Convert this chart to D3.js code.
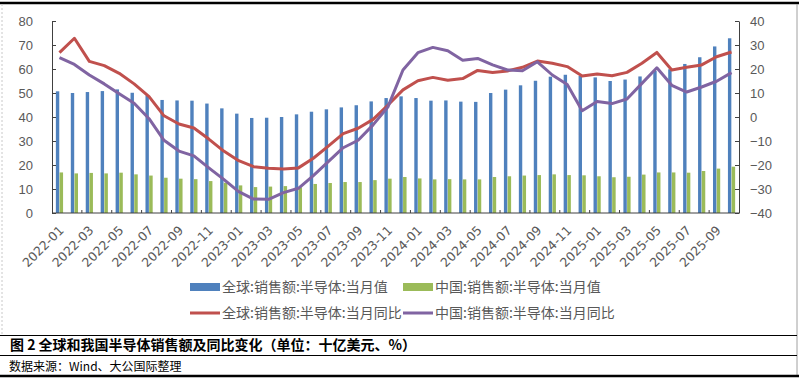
<!DOCTYPE html>
<html>
<head>
<meta charset="utf-8">
<script src="https://cdn.jsdelivr.net/npm/d3@7"></script>
<style>
  body { margin: 0; background: #fff; }
  svg { display: block; }
  .axis path, .axis line { stroke: #404040; }
  .axis text { fill: #595959; font-family: "Liberation Sans", Arial, sans-serif; font-size: 13px; }
  .xLabel { fill: #595959; font-family: "DejaVu Sans", sans-serif; font-size: 12.5px; }
  .legendText { fill: #595959; font-family: "Noto Sans CJK SC", sans-serif; font-size: 14px; }
</style>
</head>
<body>
<div class="plot"></div>
<script>
//DATA
let months = ["2022-01","2022-02","2022-03","2022-04","2022-05","2022-06","2022-07","2022-08","2022-09","2022-10","2022-11","2022-12",
  "2023-01","2023-02","2023-03","2023-04","2023-05","2023-06","2023-07","2023-08","2023-09","2023-10","2023-11","2023-12",
  "2024-01","2024-02","2024-03","2024-04","2024-05","2024-06","2024-07","2024-08","2024-09","2024-10","2024-11","2024-12",
  "2025-01","2025-02","2025-03","2025-04","2025-05","2025-06","2025-07","2025-08","2025-09","2025-10"];

// 全球:销售额:半导体:当月值 (十亿美元)
let globalSales = [50.7,50.0,50.4,50.8,51.5,50.1,49.0,47.1,46.9,46.8,45.6,43.6,
  41.4,39.6,39.7,40.0,41.1,42.2,43.2,44.0,44.9,46.5,47.9,48.6,
  47.9,46.8,46.9,46.4,46.3,50.0,51.4,53.2,55.1,56.8,57.6,57.1,
  56.5,55.0,55.6,56.9,59.2,59.9,62.1,64.9,69.4,72.8];

// 中国:销售额:半导体:当月值 (十亿美元)
let chinaSales = [16.9,16.5,16.7,16.5,16.8,16.1,15.6,14.7,14.3,14.1,13.3,12.6,
  11.5,10.8,11.0,11.2,10.7,12.1,12.5,12.9,12.9,13.7,14.3,15.0,
  14.4,14.0,14.1,14.0,14.0,15.0,15.3,15.6,15.8,16.1,15.8,15.7,
  15.3,14.9,15.1,16.0,16.9,16.9,16.8,17.5,18.5,19.3];

// 全球:销售额:半导体:当月同比 (%)
let globalYoY = [26.8,32.8,23.2,21.4,18.2,13.8,8.5,0.5,-2.9,-4.6,-9.2,-14.2,
  -18.2,-20.7,-21.4,-21.7,-21.2,-17.2,-12.1,-6.9,-4.7,-1.0,5.0,11.3,
  15.1,16.5,15.3,16.0,19.4,18.5,19.2,20.7,23.3,22.4,21.0,17.1,
  17.9,17.2,18.6,22.4,26.9,19.6,20.7,21.7,25.1,27.1];

// 中国:销售额:半导体:当月同比 (%)
let chinaYoY = [24.7,21.9,17.5,13.8,9.7,5.7,-0.7,-9.7,-14.2,-16.2,-21.2,-26.0,
  -31.1,-34.2,-34.3,-31.5,-29.7,-24.4,-18.6,-12.8,-9.7,-3.3,4.3,19.6,
  26.8,29.0,27.6,23.6,24.4,21.7,19.6,19.3,23.0,17.5,13.5,2.6,
  6.5,5.6,7.5,14.0,20.5,13.2,10.4,12.5,14.9,18.5];

let leftTicks = [0,10,20,30,40,50,60,70,80];
let rightTicks = [-40,-30,-20,-10,0,10,20,30,40];

let seriesNames = ["全球:销售额:半导体:当月值","中国:销售额:半导体:当月值",
  "全球:销售额:半导体:当月同比","中国:销售额:半导体:当月同比"];
let seriesColors = ["#4F81BD","#9BBB59","#C0504D","#8064A2"];

//GENERAL VARIABLE INITIALIZATION
let w = 799;
let h = 379;
let plotLeft = 52;
let plotRight = 739;
let plotTop = 21;
let plotBottom = 213;

let svg = d3.select(".plot").append("svg")
    .attr("width", w)
    .attr("height", h);

//SCALES
let xScale = d3.scaleBand()
    .domain(months)
    .range([plotLeft, plotRight])
    .paddingInner(0)
    .paddingOuter(0);

let yLeft = d3.scaleLinear()
    .domain([0, 80])
    .range([plotBottom, plotTop]);

let yRight = d3.scaleLinear()
    .domain([-40, 40])
    .range([plotBottom, plotTop]);

let center = function(d) { return xScale(d) + xScale.bandwidth()/2; };

//BARS
svg.append("g").selectAll("rect.global")
    .data(months)
    .enter()
    .append("rect")
    .attr("class", "global")
    .attr("x", function(d) { return center(d) - 3.6; })
    .attr("width", 3.4)
    .attr("y", function(d, i) { return yLeft(globalSales[i]); })
    .attr("height", function(d, i) { return plotBottom - yLeft(globalSales[i]); })
    .attr("fill", seriesColors[0]);

svg.append("g").selectAll("rect.china")
    .data(months)
    .enter()
    .append("rect")
    .attr("class", "china")
    .attr("x", function(d) { return center(d) + 0.1; })
    .attr("width", 3.5)
    .attr("y", function(d, i) { return yLeft(chinaSales[i]); })
    .attr("height", function(d, i) { return plotBottom - yLeft(chinaSales[i]); })
    .attr("fill", seriesColors[1]);

//LINES
let line = d3.line()
    .x(function(d, i) { return center(months[i]); })
    .y(function(d) { return yRight(d); });

[globalYoY, chinaYoY].forEach(function(series, k) {
  svg.append("path")
      .datum(series)
      .attr("fill", "none")
      .attr("stroke", seriesColors[k+2])
      .attr("stroke-width", 3)
      .attr("stroke-linejoin", "round")
      .attr("d", line);
});

//AXES
svg.append("g")
    .attr("class", "axis")
    .attr("transform", "translate(" + plotLeft + ",0)")
    .call(d3.axisLeft(yLeft).tickValues(leftTicks).tickSize(-4).tickPadding(19).tickSizeOuter(0));

svg.append("g")
    .attr("class", "axis")
    .attr("transform", "translate(" + plotRight + ",0)")
    .call(d3.axisRight(yRight).tickValues(rightTicks).tickSize(-4).tickPadding(11).tickSizeOuter(0));

// x axis line and ticks every two months
svg.append("line")
    .attr("x1", plotLeft).attr("x2", plotRight)
    .attr("y1", plotBottom).attr("y2", plotBottom)
    .attr("stroke", "#404040");

svg.append("g").selectAll("line")
    .data(months.filter(function(d, i) { return i > 0 && i % 2 == 0; }))
    .enter()
    .append("line")
    .attr("x1", function(d) { return xScale(d); })
    .attr("x2", function(d) { return xScale(d); })
    .attr("y1", plotBottom - 3)
    .attr("y2", plotBottom)
    .attr("stroke", "#404040");

svg.append("g").selectAll("text")
    .data(months.filter(function(d, i) { return i % 2 == 0; }))
    .enter()
    .append("text")
    .attr("class", "xLabel")
    .attr("text-anchor", "end")
    .attr("transform", function(d) { return "translate(" + (center(d) + 2) + "," + (plotBottom + 15) + ") rotate(-45)"; })
    .attr("dy", "0.35em")
    .text(function(d) { return d; });

//LEGEND
let legendPos = [[190, 287], [403, 287], [190, 313], [403, 313]];
let legend = svg.append("g").selectAll("g")
    .data(seriesNames)
    .enter()
    .append("g")
    .attr("transform", function(d, i) { return "translate(" + legendPos[i][0] + "," + legendPos[i][1] + ")"; });

legend.append("rect")
    .attr("x", 0)
    .attr("y", function(d, i) { return i < 2 ? -4 : -1.5; })
    .attr("width", 30)
    .attr("height", function(d, i) { return i < 2 ? 8 : 3; })
    .attr("fill", function(d, i) { return seriesColors[i]; });

legend.append("text")
    .attr("class", "legendText")
    .attr("x", 32)
    .attr("dy", "0.35em")
    .text(function(d) { return d; });

//FRAME AND CAPTION
svg.append("line").attr("x1", 0).attr("x2", w).attr("y1", 3).attr("y2", 3)
    .attr("stroke", "#000").attr("stroke-width", 2.5);
svg.append("line").attr("x1", 2).attr("x2", 2).attr("y1", 4).attr("y2", 335)
    .attr("stroke", "#c8c8c8").attr("stroke-dasharray", "2,2");
svg.append("line").attr("x1", 797).attr("x2", 797).attr("y1", 4).attr("y2", 376)
    .attr("stroke", "#a0a0a0");
svg.append("line").attr("x1", 0).attr("x2", 797).attr("y1", 335.5).attr("y2", 335.5)
    .attr("stroke", "#000").attr("stroke-width", 1);
svg.append("line").attr("x1", 0).attr("x2", 797).attr("y1", 355.5).attr("y2", 355.5)
    .attr("stroke", "#000").attr("stroke-width", 1);
svg.append("line").attr("x1", 0).attr("x2", w).attr("y1", 376).attr("y2", 376)
    .attr("stroke", "#000").attr("stroke-width", 2.5);

svg.append("text")
    .attr("x", 10)
    .attr("y", 350)
    .attr("font-family", "'Noto Sans CJK SC', sans-serif")
    .attr("font-size", "14px")
    .attr("font-weight", "bold")
    .attr("fill", "#000")
    .text("图 2  全球和我国半导体销售额及同比变化（单位：十亿美元、%）");

svg.append("text")
    .attr("x", 9)
    .attr("y", 371)
    .attr("font-family", "'Noto Sans CJK SC', sans-serif")
    .attr("font-size", "12px")
    .attr("fill", "#000")
    .text("数据来源：Wind、大公国际整理");
</script>
</body>
</html>
